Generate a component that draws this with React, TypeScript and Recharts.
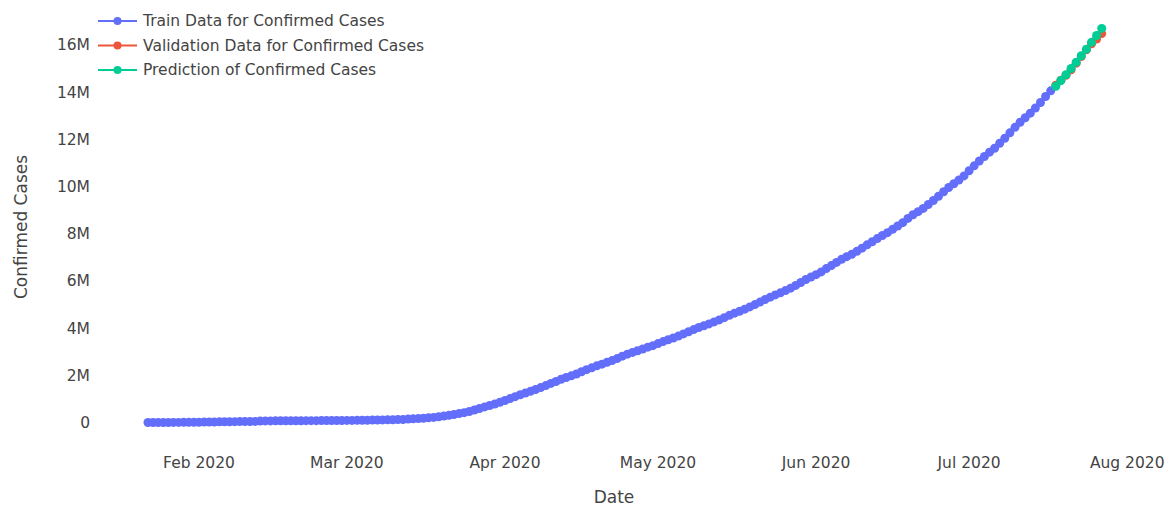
import React from 'react';
import { LineChart, Line, XAxis, YAxis, Legend, Label } from 'recharts';

// Daily worldwide confirmed cases, starting 2020-01-22 (day 0)
const trainConfirmed = [
  555, 654, 941, 1434, 2118, 2927, 5578, 6166, 8234, 9927,
  12038, 16787, 19881, 23892, 27635, 30794, 34391, 37120, 40150, 42762,
  44802, 45221, 60368, 66885, 69030, 71224, 73258, 75136, 75639, 76197,
  76823, 78579, 78965, 79568, 80413, 81395, 82754, 84120, 86011,
  88369, 90306, 92840, 95120, 97886, 101801, 105847, 109821, 113590, 118620,
  125875, 128352, 145205, 156101, 167454, 181574, 197102, 214821, 242570, 272208,
  304507, 336953, 378235, 418045, 467653, 529591, 593291, 660706, 720117, 782365, 857487,
  932605, 1013466, 1095917, 1176060, 1249754, 1321481, 1396476, 1479804, 1565278, 1657526,
  1735650, 1834721, 1904838, 1976191, 2056054, 2152437, 2240190, 2317758, 2401378, 2472258,
  2549123, 2624068, 2708885, 2811193, 2896746, 2971475, 3041764, 3116398, 3193886, 3256846,
  3343777, 3427584, 3506729, 3583055, 3662691, 3755341, 3845718, 3938064, 4024009, 4101699,
  4177502, 4261747, 4347018, 4442163, 4542347, 4634068, 4713620, 4801943, 4897492, 4996472,
  5102424, 5210817, 5310362, 5407613, 5495061, 5589626, 5691790, 5808946, 5930228, 6059017, 6166946,
  6265852, 6381063, 6520775, 6648913, 6784116, 6913707, 7026348, 7129953, 7253995, 7387530,
  7529175, 7658815, 7791904, 7924011, 8043794, 8185273, 8327845, 8466978, 8647784, 8805336,
  8933875, 9071733, 9237071, 9408254, 9586141, 9777487, 9955603, 10117227, 10275799, 10449697,
  10667386, 10875091, 11078585, 11272152, 11454847, 11622190, 11833034, 12044836, 12273063, 12505640,
  12721968, 12914636, 13107415, 13328867, 13559984, 13812525, 14054563,
];

// 2020-07-18 .. 2020-07-27
const validationConfirmed = [
  14292198, 14506845, 14713623, 14947078, 15227725, 15510481, 15791645, 16047190, 16251796, 16480485,
];
const predictedConfirmed = [
  14250000, 14490000, 14740000, 15000000, 15270000, 15540000, 15820000, 16110000, 16400000, 16700000,
];

const xTickDays = [10, 39, 70, 100, 131, 161, 192];
const xTickLabels = ['Feb 2020', 'Mar 2020', 'Apr 2020', 'May 2020', 'Jun 2020', 'Jul 2020', 'Aug 2020'];
const yTicks = [0, 2e6, 4e6, 6e6, 8e6, 10e6, 12e6, 14e6, 16e6];

const seriesNames = [
  'Train Data for Confirmed Cases',
  'Validation Data for Confirmed Cases',
  'Prediction of Confirmed Cases',
];
const colors = ['#636efa', '#EF553B', '#00cc96'];

const trainData = trainConfirmed.map((v, i) => ({ day: i, value: v }));
const validStart = trainConfirmed.length;
const validData = validationConfirmed.map((v, i) => ({ day: validStart + i, value: v }));
const predData = predictedConfirmed.map((v, i) => ({ day: validStart + i, value: v }));

const FONT = '"DejaVu Sans", Verdana, sans-serif';
const TEXT = '#444';
const DOT_R = 4.5;

const LegendContent = () => (
  <svg width={480} height={90} style={{ display: 'block' }}>
    {seriesNames.map((name, i) => {
      const cy = 21 + i * 24.5;
      return (
        <g key={name}>
          <line x1={98} x2={137} y1={cy} y2={cy} stroke={colors[i]} strokeWidth={2} />
          <circle cx={117.5} cy={cy} r={4} fill={colors[i]} />
          <text x={143} y={cy} dominantBaseline="central" fontFamily={FONT} fontSize={15.5} fill={TEXT}>
            {name}
          </text>
        </g>
      );
    })}
  </svg>
);

export default function App() {
  return (
    <div style={{ position: 'absolute', left: 0, top: 0, width: 1165, height: 506, background: '#fff' }}>
      <LineChart width={1165} height={506} margin={{ top: 10, right: 15, bottom: 0, left: 0 }}>
        <XAxis
          type="number"
          dataKey="day"
          domain={[-9.41, 196.47]}
          allowDataOverflow
          ticks={xTickDays}
          tickFormatter={(d: number) => xTickLabels[xTickDays.indexOf(d)] ?? ''}
          axisLine={false}
          tickLine={false}
          tickSize={0}
          tickMargin={12}
          height={61}
          interval={0}
          tick={{ fontFamily: FONT, fontSize: 15.5, fill: TEXT }}
        >
          <Label
            content={() => (
              <text x={614} y={497} textAnchor="middle" dominantBaseline="central" fontFamily={FONT} fontSize={17} fill={TEXT}>
                Date
              </text>
            )}
          />
        </XAxis>
        <YAxis
          type="number"
          domain={[-953000, 17479000]}
          allowDataOverflow
          ticks={yTicks}
          tickFormatter={(v: number) => (v === 0 ? '0' : `${v / 1e6}M`)}
          axisLine={false}
          tickLine={false}
          tickSize={0}
          tickMargin={10}
          width={100}
          interval={0}
          tick={{ fontFamily: FONT, fontSize: 15.5, fill: TEXT }}
        >
          <Label
            content={() => (
              <text
                x={21}
                y={227}
                transform="rotate(-90 21 227)"
                textAnchor="middle"
                dominantBaseline="central"
                fontFamily={FONT}
                fontSize={17}
                fill={TEXT}
              >
                Confirmed Cases
              </text>
            )}
          />
        </YAxis>
        <Legend
          layout="horizontal"
          align="center"
          verticalAlign="middle"
          wrapperStyle={{ top: 0, left: 0, width: 480, height: 90 }}
          content={() => <LegendContent />}
        />
        <Line
          data={trainData}
          dataKey="value"
          name={seriesNames[0]}
          stroke={colors[0]}
          strokeWidth={2}
          dot={{ r: DOT_R, fill: colors[0], stroke: 'none' }}
          isAnimationActive={false}
        />
        <Line
          data={validData}
          dataKey="value"
          name={seriesNames[1]}
          stroke={colors[1]}
          strokeWidth={2}
          dot={{ r: DOT_R, fill: colors[1], stroke: 'none' }}
          isAnimationActive={false}
        />
        <Line
          data={predData}
          dataKey="value"
          name={seriesNames[2]}
          stroke={colors[2]}
          strokeWidth={2}
          dot={{ r: DOT_R, fill: colors[2], stroke: 'none' }}
          isAnimationActive={false}
        />
      </LineChart>
    </div>
  );
}
